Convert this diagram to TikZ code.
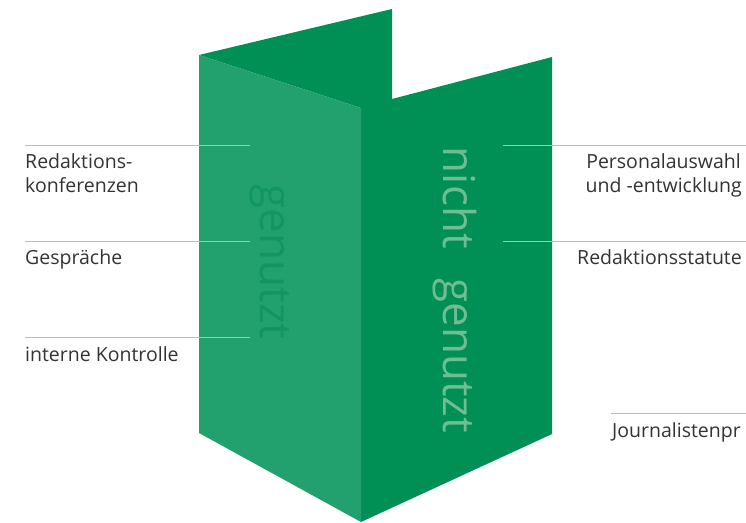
\documentclass[tikz,border=0pt]{standalone}
\usepackage{fontspec}
\setmainfont{Open Sans}
\definecolor{darkgreen}{HTML}{008F54}
\definecolor{lightgreen}{HTML}{22A06E}
\definecolor{txtdark}{HTML}{11965F}
\definecolor{txtlight}{HTML}{6FBD93}
\definecolor{labelgray}{HTML}{333333}
\definecolor{rulegray}{HTML}{BBBBBB}
\tikzset{
  lbl/.style={inner sep=0pt, text=labelgray, font=\fontsize{19.5pt}{24pt}\selectfont},
  rule/.style={draw=rulegray, line width=1pt},
  big/.style={inner sep=0pt, font=\fontsize{44pt}{50pt}\selectfont, rotate=-90, anchor=base}
}
\begin{document}
\begin{tikzpicture}[x=1pt,y=-1pt]
\useasboundingbox (0,0) rectangle (746,522);
\clip (0,0) rectangle (746,522);
% shapes
\coordinate (tl) at (199,55);
\coordinate (bt) at (392,9);
\coordinate (bn) at (392,99);
\coordinate (tr) at (552,57);
\coordinate (br) at (552,434);
\coordinate (bot) at (361,522);
\coordinate (mid) at (361,108);
\coordinate (bl) at (199,433);
\fill[darkgreen] (tl) -- (bt) -- (bn) -- (tr) -- (br) -- (bot) -- (mid) -- cycle;
\fill[lightgreen] (tl) -- (mid) -- (bot) -- (bl) -- cycle;
% vertical texts
\node[big, text=txtdark] (gen) at (260,262) {genutzt};
\node[big, text=txtlight] (ngen) at (443,290) {\spaceskip=30pt nicht genutzt};
% left rules
\coordinate (l1a) at (25,145); \coordinate (l1b) at (250,145);
\coordinate (l2a) at (25,241); \coordinate (l2b) at (250,241);
\coordinate (l3a) at (25,337); \coordinate (l3b) at (250,337);
\draw[rule] (l1a) -- (l1b);
\draw[rule] (l2a) -- (l2b);
\draw[rule] (l3a) -- (l3b);
% right rules
\coordinate (r1a) at (503,145); \coordinate (r1b) at (746,145);
\coordinate (r2a) at (503,241); \coordinate (r2b) at (746,241);
\coordinate (r3a) at (611,413); \coordinate (r3b) at (746,413);
\draw[rule] (r1a) -- (r1b);
\draw[rule] (r2a) -- (r2b);
\draw[rule] (r3a) -- (r3b);
% left labels
\node[lbl, anchor=base west] (la1) at (25,168) {Redaktions-};
\node[lbl, anchor=base west] (la2) at (25,192) {konferenzen};
\node[lbl, anchor=base west] (lb) at (25,264) {Gespräche};
\node[lbl, anchor=base west] (lc) at (25,361) {interne Kontrolle};
% right labels
\node[lbl, anchor=base east] (ra1) at (741,168) {Personalauswahl};
\node[lbl, anchor=base east] (ra2) at (742,192) {und -entwicklung};
\node[lbl, anchor=base west] (rb) at (577,264) {Redaktionsstatute};
\node[lbl, anchor=base west] (rc) at (612,437) {Journalistenpr};
\end{tikzpicture}
\end{document}
